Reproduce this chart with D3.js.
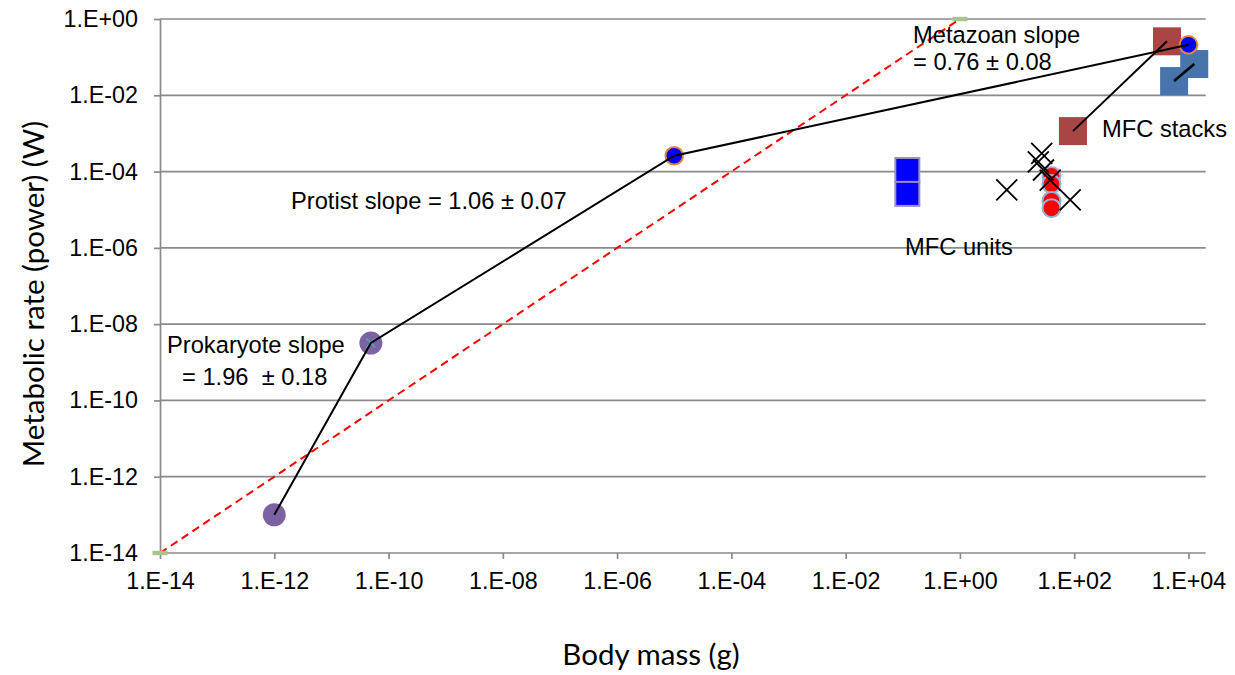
<!DOCTYPE html>
<html>
<head>
<meta charset="utf-8">
<script src="https://cdn.jsdelivr.net/npm/d3@7"></script>
<style>
  html, body { margin: 0; padding: 0; background: #fff; }
  svg { display: block; }
  text { white-space: pre; }
</style>
</head>
<body>
<svg id="chart" width="1235" height="675"></svg>
<script>
// ---------- data ----------
const xTickValues = [1e-14, 1e-12, 1e-10, 1e-8, 1e-6, 1e-4, 1e-2, 1e0, 1e2, 1e4];
const xTickLabels = ["1.E-14", "1.E-12", "1.E-10", "1.E-08", "1.E-06", "1.E-04", "1.E-02", "1.E+00", "1.E+02", "1.E+04"];
const yTickValues = [1e-14, 1e-12, 1e-10, 1e-8, 1e-6, 1e-4, 1e-2, 1e0];
const yTickLabels = ["1.E-14", "1.E-12", "1.E-10", "1.E-08", "1.E-06", "1.E-04", "1.E-02", "1.E+00"];

// organisms
const prokaryoteMass = [1e-12, 4.9e-11];
const prokaryoteRate = [1e-13, 3.2e-9];
const protistMass = [1e-5];
const protistRate = [2.6e-4];
const metazoanMass = [1e4];
const metazoanRate = [0.21];
// fitted path through the groups
const trendMass = [1e-12, 4.9e-11, 1e-5, 1e4];
const trendRate = [1e-13, 3.2e-9, 2.6e-4, 0.21];
// isometric reference line
const isoMass = [1e-14, 1];
const isoRate = [1e-14, 1];
// MFC units
const mfcUnitMass = [0.12, 0.12];
const mfcUnitRate = [1.1e-4, 2.6e-5];
const mfcCrossMass = [6.6, 27, 23.5, 29, 38, 85];
const mfcCrossRate = [3.3e-5, 3.0e-4, 1.8e-4, 1.1e-4, 6e-5, 1.8e-5];
const mfcRoundMass = [40, 40, 40, 40];
const mfcRoundRate = [7.6e-5, 4.7e-5, 1.7e-5, 1.1e-5];
// MFC stacks
const stackRedMass = [95, 4200];
const stackRedRate = [1.15e-3, 0.26];
const stackBlueMass = [5600, 12600];
const stackBlueRate = [0.0236, 0.066];

// ---------- layout ----------
const svg = d3.select("#chart");
const x = d3.scaleLog().domain([1e-14, 2e4]).range([160, 1205.7]);
const y = d3.scaleLog().domain([1e-14, 1]).range([553, 19]);
const xR = [160, 1205.7];

const tickFont = "'Liberation Sans', Arial, sans-serif";
const titleFont = "Lato, 'Open Sans', sans-serif";
const gridColor = "#8a8a8a";

// gridlines
svg.append("g").selectAll("line").data(yTickValues.slice(1)).join("line")
  .attr("x1", xR[0]).attr("x2", xR[1])
  .attr("y1", d => y(d)).attr("y2", d => y(d))
  .attr("stroke", gridColor).attr("stroke-width", 1.7);

// x axis
const xAxis = d3.axisBottom(x).tickValues(xTickValues)
  .tickFormat((d, i) => xTickLabels[i]).tickSizeOuter(0).tickSizeInner(6).tickPadding(13);
const gx = svg.append("g").attr("transform", `translate(0,${y(1e-14)})`).call(xAxis);
gx.select(".domain").attr("stroke", gridColor).attr("stroke-width", 1.7)
  .attr("d", `M${xR[0]},0H${xR[1]}`);
gx.selectAll(".tick line").attr("stroke", gridColor).attr("stroke-width", 1.7);
gx.selectAll(".tick text").attr("font-family", tickFont).attr("font-size", 23.3).attr("fill", "#000");

// y axis
const yAxis = d3.axisLeft(y).tickValues(yTickValues)
  .tickFormat((d, i) => yTickLabels[i]).tickSizeOuter(0).tickSizeInner(6).tickPadding(16);
const gy = svg.append("g").attr("transform", `translate(${xR[0]},0)`).call(yAxis);
gy.select(".domain").attr("stroke", gridColor).attr("stroke-width", 1.7);
gy.selectAll(".tick line").attr("stroke", gridColor).attr("stroke-width", 1.7);
gy.selectAll(".tick text").attr("font-family", tickFont).attr("font-size", 23.3).attr("fill", "#000");

// axis titles
svg.append("text").attr("x", 651).attr("y", 665).attr("text-anchor", "middle")
  .attr("font-family", titleFont).attr("font-size", 29.5)
  .text("Body mass (g)");
svg.append("text").attr("transform", "translate(44,294) rotate(-90)").attr("text-anchor", "middle")
  .attr("font-family", titleFont).attr("font-size", 29.5)
  .text("Metabolic rate (power) (W)");

// ---------- marks ----------
const line = d3.line().x(d => x(d[0])).y(d => y(d[1]));
const zip = (a, b) => a.map((v, i) => [v, b[i]]);

// isometric dashed line
svg.append("path").datum(zip(isoMass, isoRate)).attr("d", line)
  .attr("fill", "none").attr("stroke", "#ff0000").attr("stroke-width", 2).attr("stroke-dasharray", "8,5");
svg.append("g").selectAll("rect").data(zip(isoMass, isoRate)).join("rect")
  .attr("x", d => x(d[0]) - 7.5).attr("y", d => y(d[1]) - 2.2).attr("width", 15).attr("height", 4.4)
  .attr("fill", "#a9c48a");

// prokaryotes
svg.append("g").selectAll("circle").data(zip(prokaryoteMass, prokaryoteRate)).join("circle")
  .attr("cx", d => x(d[0])).attr("cy", d => y(d[1])).attr("r", 11.5).attr("fill", "#7c62a0");
// small teal cross on second prokaryote
svg.append("g").selectAll("path").data(zip(prokaryoteMass.slice(1), prokaryoteRate.slice(1))).join("path")
  .attr("d", d => { const cx = x(d[0]), cy = y(d[1]), s = 4.5;
    return `M${cx - s},${cy - s}L${cx + s},${cy + s}M${cx - s},${cy + s}L${cx + s},${cy - s}`; })
  .attr("stroke", "#4bacc6").attr("stroke-width", 1.5);

// MFC unit squares
svg.append("g").selectAll("rect").data(zip(mfcUnitMass, mfcUnitRate)).join("rect")
  .attr("x", d => x(d[0]) - 12).attr("y", d => y(d[1]) - 12).attr("width", 24).attr("height", 24)
  .attr("fill", "#0000ff").attr("stroke", "#9a8fc9").attr("stroke-width", 2);

// MFC stacks squares
svg.append("g").selectAll("rect").data(zip(stackRedMass, stackRedRate)).join("rect")
  .attr("x", d => x(d[0]) - 14).attr("y", d => y(d[1]) - 14).attr("width", 28).attr("height", 28)
  .attr("fill", "#a94643");
svg.append("g").selectAll("rect").data(zip(stackBlueMass, stackBlueRate)).join("rect")
  .attr("x", d => x(d[0]) - 14).attr("y", d => y(d[1]) - 14).attr("width", 28).attr("height", 28)
  .attr("fill", "#4674ab");

// red MFC circles
svg.append("g").selectAll("circle").data(zip(mfcRoundMass, mfcRoundRate)).join("circle")
  .attr("cx", d => x(d[0])).attr("cy", d => y(d[1])).attr("r", 9)
  .attr("fill", "#ff0000").attr("stroke", "#95b3d7").attr("stroke-width", 2);

// crosses
svg.append("g").selectAll("path").data(zip(mfcCrossMass, mfcCrossRate)).join("path")
  .attr("d", d => { const cx = x(d[0]), cy = y(d[1]), s = 10.5;
    return `M${cx - s},${cy - s}L${cx + s},${cy + s}M${cx - s},${cy + s}L${cx + s},${cy - s}`; })
  .attr("stroke", "#000").attr("stroke-width", 1.8).attr("fill", "none");

// protist & metazoan circles
svg.append("g").selectAll("circle").data(zip(protistMass.concat(metazoanMass), protistRate.concat(metazoanRate))).join("circle")
  .attr("cx", d => x(d[0])).attr("cy", d => y(d[1])).attr("r", 8.8)
  .attr("fill", "#0000ff").attr("stroke", "#e2873a").attr("stroke-width", 2);

// black lines
svg.append("path").datum(zip(trendMass, trendRate)).attr("d", line)
  .attr("fill", "none").attr("stroke", "#000").attr("stroke-width", 2);
svg.append("path").datum(zip(stackRedMass, stackRedRate)).attr("d", line)
  .attr("fill", "none").attr("stroke", "#000").attr("stroke-width", 2);
svg.append("path").datum(zip(stackBlueMass, stackBlueRate)).attr("d", line)
  .attr("fill", "none").attr("stroke", "#000").attr("stroke-width", 2.5);

// annotations
const notes = [
  { t: "Metazoan slope", x: 913, y: 43 },
  { t: "= 0.76 ± 0.08", x: 913, y: 70 },
  { t: "MFC stacks", x: 1102, y: 137 },
  { t: "Protist slope = 1.06 ± 0.07", x: 291, y: 209 },
  { t: "Prokaryote slope", x: 167, y: 353 },
  { t: "= 1.96  ± 0.18", x: 182, y: 385 },
  { t: "MFC units", x: 905, y: 255 }
];
svg.append("g").selectAll("text").data(notes).join("text")
  .attr("x", d => d.x).attr("y", d => d.y).text(d => d.t)
  .attr("font-family", tickFont).attr("font-size", 23.7).attr("fill", "#000");
</script>
</body>
</html>
